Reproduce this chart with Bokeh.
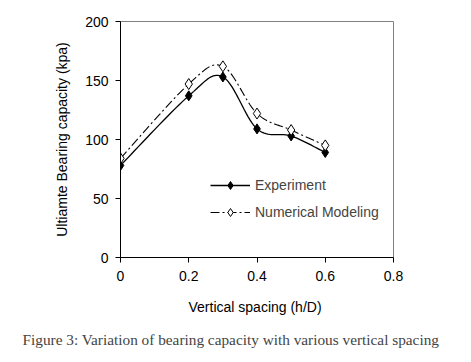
import numpy as np
from bokeh.plotting import figure
from bokeh.models import Range1d, FixedTicker, Legend, LegendItem, Title
from bokeh.embed import file_html
from bokeh.resources import INLINE

spacing = [0.0, 0.2, 0.3, 0.4, 0.5, 0.6]
experiment = [78, 137, 153, 109, 103, 89]
numerical = [84, 147, 162, 122, 108, 95]
x_ticks = [0, 0.2, 0.4, 0.6, 0.8]
y_ticks = [0, 50, 100, 150, 200]


def smooth(xs, ys, n=20, tension=0.5):
    # Catmull-Rom style smoothing (rendering of the line, like Excel's "smoothed line")
    xs = np.asarray(xs, float)
    ys = np.asarray(ys, float)
    px = np.concatenate([[xs[0]], xs, [xs[-1]]])
    py = np.concatenate([[ys[0]], ys, [ys[-1]]])
    ox, oy = [], []
    for i in range(1, len(px) - 2):
        p0, p1, p2, p3 = (np.array([px[j], py[j]]) for j in (i - 1, i, i + 1, i + 2))
        c1 = p1 + (p2 - p0) * tension / 3
        c2 = p2 - (p3 - p1) * tension / 3
        t = np.linspace(0, 1, n)[:, None]
        pts = (1 - t) ** 3 * p1 + 3 * (1 - t) ** 2 * t * c1 + 3 * (1 - t) * t ** 2 * c2 + t ** 3 * p2
        if i > 1:
            pts = pts[1:]
        ox.extend(pts[:, 0])
        oy.extend(pts[:, 1])
    return ox, oy


p = figure(width=455, height=362, output_backend="svg", toolbar_location=None,
           x_range=Range1d(0, 0.8), y_range=Range1d(0, 200),
           min_border_left=120, min_border_right=62, min_border_top=21, min_border_bottom=105)
p.background_fill_color = "white"
p.border_fill_color = "white"
p.outline_line_color = "#808080"
p.outline_line_width = 1
p.grid.visible = False

font = "Liberation Sans"
for ax in (p.xaxis, p.yaxis):
    ax.axis_line_color = "black"
    ax.major_tick_line_color = "black"
    ax.minor_tick_line_color = None
    ax.major_tick_out = 5
    ax.major_tick_in = 0
    ax.major_label_text_font = font
    ax.major_label_text_font_size = "14px"
    ax.major_label_text_color = "black"
    ax.axis_label_text_font = font
    ax.axis_label_text_font_size = "14px"
    ax.axis_label_text_font_style = "normal"
    ax.axis_label_text_color = "black"

p.xaxis.ticker = FixedTicker(ticks=x_ticks)
p.yaxis.ticker = FixedTicker(ticks=y_ticks)
p.xaxis.major_label_overrides = {0: "0", 0.2: "0.2", 0.4: "0.4", 0.6: "0.6", 0.8: "0.8"}
p.xaxis.major_label_standoff = 8
p.yaxis.major_label_standoff = 7
p.xaxis.axis_label = "Vertical spacing  (h/D)"
p.yaxis.axis_label = "Ultiamte Bearing capacity (kpa)"
p.xaxis.axis_label_standoff = 15
p.yaxis.axis_label_standoff = 12

ex_x, ex_y = smooth(spacing, experiment)
nm_x, nm_y = smooth(spacing, numerical)

l1 = p.line(ex_x, ex_y, line_color="black", line_width=1.3)
l2 = p.line(nm_x, nm_y, line_color="black", line_width=1.1, line_dash="9 3 2 3")
m1 = p.scatter(spacing, experiment, marker="diamond", size=10, fill_color="black", line_color="black")
m2 = p.scatter(spacing, numerical, marker="diamond", size=11, fill_color="white", line_color="black",
               line_width=1)

legend = Legend(items=[LegendItem(label="Experiment", renderers=[l1, m1]),
                       LegendItem(label="Numerical Modeling", renderers=[l2, m2])],
                location=(90, 35), padding=0, margin=0, spacing=7,
                glyph_width=40, glyph_height=20, label_height=20, label_standoff=5,
                label_text_font=font, label_text_font_size="14px",
                background_fill_alpha=0, border_line_color=None)
p.add_layout(legend, "center")

cap = Title(text="Figure 3: Variation of bearing capacity with various vertical spacing",
            text_font="Liberation Serif", text_font_size="15.3px", text_font_style="normal",
            align="left", offset=-98, standoff=23)
p.add_layout(cap, "below")

open("out.html", "w").write(file_html(p, INLINE))
